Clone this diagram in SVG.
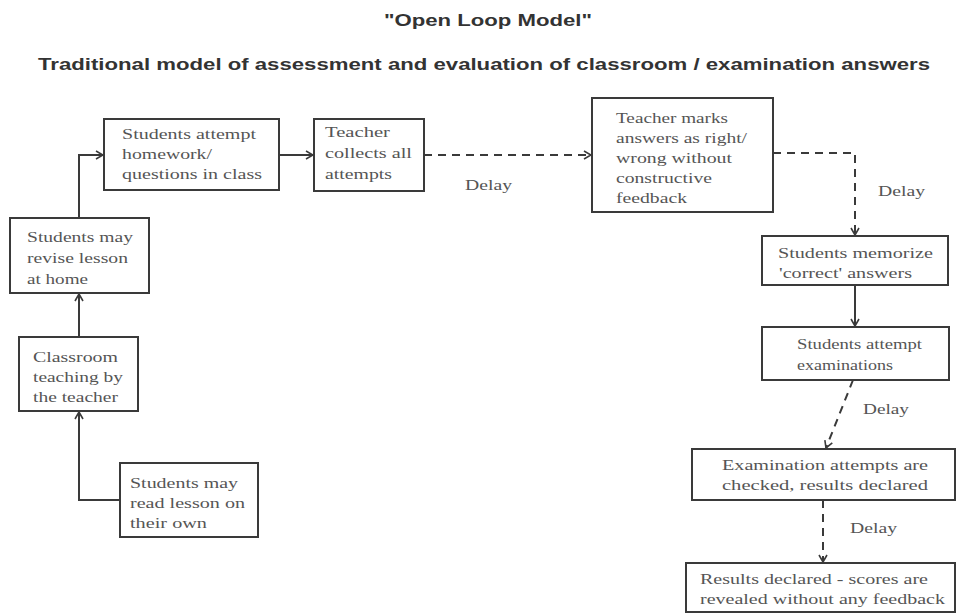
<svg xmlns="http://www.w3.org/2000/svg" width="958" height="614" viewBox="0 0 958 614">
<style>
.bg{fill:#fff}
.box{fill:#fff;stroke:#3a3a3a;stroke-width:2}
.t{font-family:"Liberation Serif","Times New Roman",serif;font-size:15px;fill:#555}
.title{font-family:"Liberation Sans",Arial,sans-serif;font-weight:bold;fill:#333}
.c{fill:none;stroke:#3a3a3a;stroke-width:2}
.d{stroke-dasharray:8,6}
</style>
<defs>
<marker id="ah" viewBox="0 0 10 10" refX="9" refY="5" markerWidth="10" markerHeight="10" markerUnits="userSpaceOnUse" orient="auto">
<path d="M2,1 L9,5 L2,9" fill="none" stroke="#3a3a3a" stroke-width="1.6"/>
</marker>
</defs>
<rect class="bg" x="0" y="0" width="958" height="614"/>
<text class="title" x="384" y="26" font-size="16" textLength="208" lengthAdjust="spacingAndGlyphs">"Open Loop Model"</text>
<text class="title" x="38" y="70" font-size="17" textLength="892" lengthAdjust="spacingAndGlyphs">Traditional model of assessment and evaluation of classroom / examination answers</text>

<g id="connectors">
<path class="c" d="M79,218 V155 H103" marker-end="url(#ah)"/>
<path class="c" d="M278,155 H313" marker-end="url(#ah)"/>
<path class="c d" d="M424,155 H591" marker-end="url(#ah)"/>
<path class="c d" d="M773,153 H855 V235" marker-end="url(#ah)"/>
<path class="c" d="M855,285 V326" marker-end="url(#ah)"/>
<path class="c d" d="M853,380 L826,448" marker-end="url(#ah)"/>
<path class="c d" d="M823,500 V562" marker-end="url(#ah)"/>
<path class="c" d="M79,337 V294" marker-end="url(#ah)"/>
<path class="c" d="M120,500 H79 V412" marker-end="url(#ah)"/>
<text class="t" x="465" y="190" textLength="47" lengthAdjust="spacingAndGlyphs">Delay</text>
<text class="t" x="878" y="196" textLength="47" lengthAdjust="spacingAndGlyphs">Delay</text>
<text class="t" x="863" y="414" textLength="46" lengthAdjust="spacingAndGlyphs">Delay</text>
<text class="t" x="850" y="533" textLength="47" lengthAdjust="spacingAndGlyphs">Delay</text>
</g>

<g id="attempt-homework">
<rect class="box" x="104" y="119" width="175" height="71"/>
<text class="t" x="122" y="139" textLength="134" lengthAdjust="spacingAndGlyphs">Students attempt</text>
<text class="t" x="122" y="159" textLength="90" lengthAdjust="spacingAndGlyphs">homework/</text>
<text class="t" x="122" y="179" textLength="140" lengthAdjust="spacingAndGlyphs">questions in class</text>
</g>

<g id="revise">
<rect class="box" x="10" y="218" width="139" height="75"/>
<text class="t" x="27" y="242" textLength="106" lengthAdjust="spacingAndGlyphs">Students may</text>
<text class="t" x="27" y="263" textLength="101" lengthAdjust="spacingAndGlyphs">revise lesson</text>
<text class="t" x="27" y="284" textLength="61" lengthAdjust="spacingAndGlyphs">at home</text>
</g>

<g id="classroom">
<rect class="box" x="19" y="337" width="119" height="74"/>
<text class="t" x="33" y="362" textLength="85" lengthAdjust="spacingAndGlyphs">Classroom</text>
<text class="t" x="33" y="382" textLength="90" lengthAdjust="spacingAndGlyphs">teaching by</text>
<text class="t" x="33" y="402" textLength="85" lengthAdjust="spacingAndGlyphs">the teacher</text>
</g>

<g id="read-own">
<rect class="box" x="120" y="463" width="138" height="74"/>
<text class="t" x="130" y="488" textLength="108" lengthAdjust="spacingAndGlyphs">Students may</text>
<text class="t" x="130" y="508" textLength="115" lengthAdjust="spacingAndGlyphs">read lesson on</text>
<text class="t" x="130" y="528" textLength="77" lengthAdjust="spacingAndGlyphs">their own</text>
</g>

<g id="collects">
<rect class="box" x="314" y="119" width="110" height="72"/>
<text class="t" x="325" y="137" textLength="65" lengthAdjust="spacingAndGlyphs">Teacher</text>
<text class="t" x="325" y="158" textLength="87" lengthAdjust="spacingAndGlyphs">collects all</text>
<text class="t" x="325" y="179" textLength="67" lengthAdjust="spacingAndGlyphs">attempts</text>
</g>

<g id="marks">
<rect class="box" x="592" y="98" width="181" height="114"/>
<text class="t" x="616" y="123" textLength="112" lengthAdjust="spacingAndGlyphs">Teacher marks</text>
<text class="t" x="616" y="143" textLength="131" lengthAdjust="spacingAndGlyphs">answers as right/</text>
<text class="t" x="616" y="163" textLength="116" lengthAdjust="spacingAndGlyphs">wrong without</text>
<text class="t" x="616" y="183" textLength="96" lengthAdjust="spacingAndGlyphs">constructive</text>
<text class="t" x="616" y="203" textLength="71" lengthAdjust="spacingAndGlyphs">feedback</text>
</g>

<g id="memorize">
<rect class="box" x="762" y="236" width="186" height="49"/>
<text class="t" x="778" y="258" textLength="155" lengthAdjust="spacingAndGlyphs">Students memorize</text>
<text class="t" x="779" y="278" textLength="133" lengthAdjust="spacingAndGlyphs">'correct' answers</text>
</g>

<g id="exams">
<rect class="box" x="762" y="327" width="187" height="53"/>
<text class="t" x="797" y="349" textLength="125" lengthAdjust="spacingAndGlyphs">Students attempt</text>
<text class="t" x="797" y="370" textLength="96" lengthAdjust="spacingAndGlyphs">examinations</text>
</g>

<g id="checked">
<rect class="box" x="692" y="449" width="263" height="51"/>
<text class="t" x="722" y="470" textLength="206" lengthAdjust="spacingAndGlyphs">Examination attempts are</text>
<text class="t" x="722" y="490" textLength="206" lengthAdjust="spacingAndGlyphs">checked, results declared</text>
</g>

<g id="results">
<rect class="box" x="686" y="563" width="269" height="49"/>
<text class="t" x="700" y="584" textLength="228" lengthAdjust="spacingAndGlyphs">Results declared - scores are</text>
<text class="t" x="700" y="604" textLength="245" lengthAdjust="spacingAndGlyphs">revealed without any feedback</text>
</g>
</svg>
